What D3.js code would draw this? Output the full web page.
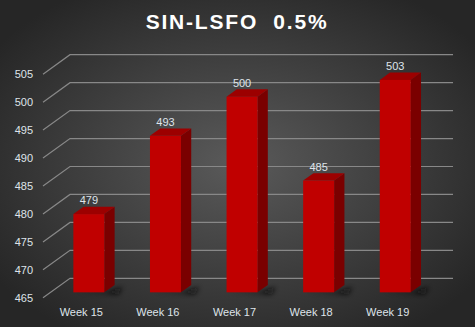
<!DOCTYPE html>
<html><head><meta charset="utf-8">
<script src="https://cdn.jsdelivr.net/npm/d3@7"></script>
<style>html,body{margin:0;padding:0;background:#2a2a2a;}svg{display:block;}</style>
</head><body>
<script>
const categories = ["Week 15","Week 16","Week 17","Week 18","Week 19"];
const values = [479, 493, 500, 485, 503];
const yTicks = [465,470,475,480,485,490,495,500,505];
const title = "SIN-LSFO  0.5%";

const W = 475, H = 327;
const svg = d3.select("body").append("svg").attr("width", W).attr("height", H);
const defs = svg.append("defs");
const rg = defs.append("radialGradient").attr("id","bg").attr("cx","50%").attr("cy","50%").attr("r","62%");
rg.append("stop").attr("offset","0%").attr("stop-color","#5a5a5a");
rg.append("stop").attr("offset","100%").attr("stop-color","#262626");
const blur = defs.append("filter").attr("id","sh").attr("x","-50%").attr("y","-50%").attr("width","200%").attr("height","200%");
blur.append("feGaussianBlur").attr("stdDeviation", 2.5);
svg.append("rect").attr("width",W).attr("height",H).attr("fill","url(#bg)");

// back-wall scales
const y = d3.scaleLinear().domain([465,505]).range([278.3, 54.7]);
const x = d3.scaleBand().domain(categories).range([70,453]);
const DX = 27, DY = 19.5;
const off = d => [-DX*d, DY*d];

// gridlines
const g = svg.append("g");
yTicks.forEach(t => {
  const yb = y(t);
  g.append("path")
    .attr("d", `M${70-DX},${yb+DY}L70,${yb}L453,${yb}`)
    .attr("fill","none").attr("stroke","#888888").attr("stroke-width",1.2);
  g.append("text").attr("x",33).attr("y",yb+DY+4)
    .attr("text-anchor","end").attr("font-family","Liberation Sans, Arial, sans-serif")
    .attr("font-size",11).attr("fill","#dfe4ea").text(t);
});

// category labels
categories.forEach(c => {
  svg.append("text").attr("x", x(c)+x.bandwidth()/2 - DX).attr("y", 316)
    .attr("text-anchor","middle").attr("font-family","Liberation Sans, Arial, sans-serif")
    .attr("font-size",11).attr("fill","#dfe4ea").text(c);
});

// bars
const d1 = 0.72, d2 = 0.34, bw = 31;
const bars = svg.append("g");
categories.forEach((c,i) => {
  const v = values[i];
  const cx = x(c)+x.bandwidth()/2;
  const [fx, fy] = off(d1), [bx, by] = off(d2);
  const xl = cx-bw/2, xr = cx+bw/2;
  const yt = y(v), yb = y(465);
  // shadow
  bars.append("path")
    .attr("d", `M${xl+fx+4},${yb+fy}L${xr+fx+2},${yb+fy}L${xr+bx+8},${yb+by+2}L${xr+fx+14},${yb+fy+2}Z`)
    .attr("fill","#101010").attr("opacity",0.85).attr("filter","url(#sh)");
  // side
  bars.append("path")
    .attr("d", `M${xr+fx},${yt+fy}L${xr+bx},${yt+by}L${xr+bx},${yb+by}L${xr+fx},${yb+fy}Z`)
    .attr("fill","#7a0000");
  // top
  bars.append("path")
    .attr("d", `M${xl+fx},${yt+fy}L${xr+fx},${yt+fy}L${xr+bx},${yt+by}L${xl+bx},${yt+by}Z`)
    .attr("fill","#9c0000");
  // front
  bars.append("rect")
    .attr("x", xl+fx).attr("y", yt+fy).attr("width", bw).attr("height", yb-yt)
    .attr("fill","#c00000");
  // label
  bars.append("text").attr("x", cx+fx).attr("y", yt+fy-10)
    .attr("text-anchor","middle").attr("font-family","Liberation Sans, Arial, sans-serif")
    .attr("font-size",11).attr("fill","#dfe4ea").text(v);
});

svg.append("text").attr("x",237).attr("y",28.5).attr("text-anchor","middle")
  .style("white-space","pre")
  .attr("font-family","Liberation Sans, Arial, sans-serif").attr("font-weight","bold")
  .attr("font-size",21).attr("letter-spacing",1.8).attr("fill","#ffffff").text(title);
</script>
</body></html>
